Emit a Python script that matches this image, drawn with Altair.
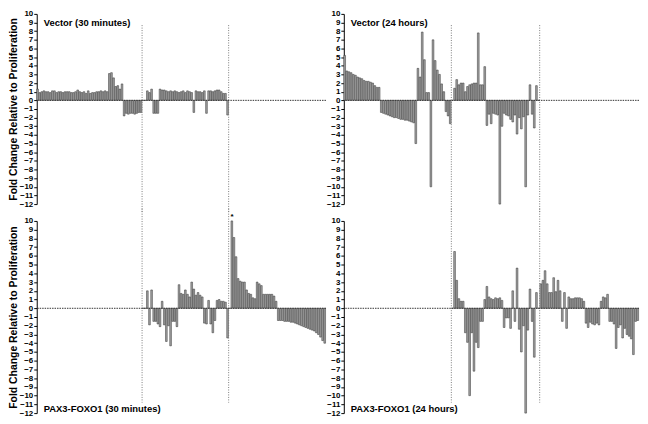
import altair as alt
import pandas as pd

# ---- group sizes (number of x slots per group) ----
G1, G2, G3 = 50, 41, 46
N = G1 + G2 + G3

# ---- Vector (30 minutes) ----
TL_G1 = [1.3, 0.9, 1.0, 1.1, 1.0, 1.0, 0.9, 1.1, 1.1, 0.9, 1.0, 1.0, 0.9, 1.0, 1.0, 1.0, 0.9,
         0.9, 1.0, 1.2, 1.0, 0.9, 1.0, 0.8, 1.1, 0.8, 0.9, 0.9, 1.0, 1.0, 1.1, 1.0, 1.1, 1.0,
         3.1, 3.2, 2.6, 1.6, 1.7, 1.3, 1.9,
         -1.8, -1.5, -1.6, -1.5, -1.5, -1.6, -1.5, -1.4, -1.4]
TL_G2 = [0, 0, 1.1, 0.9, 1.3, -1.5, -1.5, -1.5, 1.3, 1.2, 1.2, 1.1, 1.0, 1.1, 1.0, 1.1, 1.0,
         0.9, 1.0, 1.1, 0.9, 1.1, 1.0, 0.9, -1.4, 1.1, 1.0, 1.0, 0.9, 1.1, -1.5, 1.1, 1.1, 1.0,
         1.1, 1.2, 1.2, 1.0, 0.8, 0.8, -1.7]

# ---- Vector (24 hours) ----
TR_G1 = [5.2, 3.4, 3.3, 3.2, 3.0, 2.9, 2.7, 2.6, 2.5, 2.3, 2.2, 2.2, 2.1, 2.0, 1.7, 1.5, 1.5,
         -1.4, -1.5, -1.6, -1.7, -1.8, -1.9, -2.0, -2.0, -2.1, -2.2, -2.2, -2.3, -2.3, -2.4,
         -2.5, -2.6, -5.0, 3.7, 2.7, 7.9, 4.7, 0.9, 0.9, -10.0, 7.0, 4.6, 3.5, 3.0, 1.9, 1.0,
         -1.3, -1.8, -2.7]
TR_G2 = [0, 1.4, 2.4, 1.8, 2.0, 2.0, 1.0, 1.6, 1.8, 1.9, 2.0, 2.0, 7.8, 1.8, 1.8, 3.9,
         -2.9, -1.6, -2.7, -1.5, -1.6, -1.7, -12.0, -3.0, -1.5, -1.7, -1.8, -2.2, -2.5, -1.7,
         -3.9, -2.0, -3.3, -1.9, -10.0, -1.7, 1.8, -1.6, -3.2, 1.7, 0]

# ---- PAX3-FOXO1 (30 minutes) ----
BL_G2 = [0, 0, 2.0, -1.9, 2.1, -1.5, -1.5, -1.8, -2.1, 0.8, -1.9, -3.8, -2.0, -4.3, -1.5,
         -1.5, -2.1, 2.7, 1.7, 1.6, 2.1, 1.6, 1.3, 3.0, 2.2, 1.5, 1.8, 1.5, 1.3, -1.7, -1.8,
         0.9, -1.8, -2.8, -1.4, 0.9, 1.0, 0.8, 0.8, 0.7, -3.4]
BL_G3 = [0, 10.0, 8.1, 5.9, 3.4, 3.1, 3.0, 3.0, 2.1, 1.7, 1.6, 1.2, 1.1, 3.0, 2.8, 2.6, 1.6,
         1.6, 1.6, 1.6, 1.6, 1.4, 0.8,
         -1.4, -1.4, -1.4, -1.5, -1.5, -1.5, -1.6, -1.6, -1.7, -1.8, -1.9, -2.0, -2.1, -2.2,
         -2.3, -2.4, -2.5, -2.6, -2.8, -3.0, -3.3, -3.7, -4.0]

# ---- PAX3-FOXO1 (24 hours) ----
BR_G2 = [0, 6.5, 3.2, 1.1, 0.8, 0.8, -2.8, -3.9, -10.0, -2.8, -7.2, -3.9, -4.5, -1.5, -1.5,
         1.0, 2.5, 1.3, 1.1, 1.0, 1.2, 1.1, 1.2, 0.9, -2.2, -1.1, -1.1, -2.3, 2.0, -1.5, 4.6,
         -2.4, -5.0, -2.0, -12.0, -2.5, 2.2, -1.5, -5.6, 1.8, 0]
BR_G3 = [2.8, 3.2, 4.3, 2.8, 1.8, 1.8, 3.5, 1.9, 3.2, 2.0, -1.5, 1.8, -2.3, 1.3, 1.1, 1.1,
         1.2, 1.2, 1.2, 1.1, 0.8, -1.7, -2.2, -1.6, -1.8, -1.9, -1.7, -1.9, 0.8, 1.3, 1.2,
         1.6, -1.5, -1.5, -1.8, -4.6, -2.2, -1.9, -3.4, -2.3, -3.0, -3.2, -3.5, -5.3, -1.5,
         -1.4]

Y_TITLE = "Fold Change Relative to Proliferation"
Y_TICKS = list(range(-12, 11))
FONT = "Liberation Sans"


def panel_df(groups):
    rows = []
    for start, vals in groups:
        for k, v in enumerate(vals):
            rows.append({"idx": start + k, "value": v})
    return pd.DataFrame(rows)


def make_panel(df, label, label_y, width, height, show_title, vtop, vbot, star=None):
    xs = alt.Scale(domain=[0, N], nice=False, zero=False)
    ys = alt.Scale(domain=[-12, 10], nice=False, zero=False)
    if show_title:
        yaxis = alt.Axis(values=Y_TICKS, title=Y_TITLE)
    else:
        yaxis = alt.Axis(values=Y_TICKS, title=None)

    def Y(field):
        return alt.Y(field, scale=ys, axis=yaxis)

    bars = alt.Chart(df).transform_calculate(x2="datum.idx + 0.8").mark_rect(
        fill="#a3a3a3", stroke="#2e2e2e", strokeWidth=0.5
    ).encode(
        x=alt.X("idx:Q", scale=xs, axis=None),
        x2="x2:Q",
        y=Y("value:Q"),
        y2=alt.datum(0),
    )

    zero = alt.Chart(pd.DataFrame({"v": [0]})).mark_rule(
        color="#333333", strokeDash=[1.5, 1], strokeWidth=1
    ).encode(y=Y("v:Q"))

    vl = pd.DataFrame({"x": [G1 - 0.1, G1 + G2 - 0.1], "y": [vtop, vtop], "y2": [vbot, vbot]})
    vlines = alt.Chart(vl).mark_rule(
        color="#7a7a7a", strokeDash=[1, 1.5], strokeWidth=1
    ).encode(
        x=alt.X("x:Q", scale=xs, axis=None),
        y=Y("y:Q"),
        y2="y2:Q",
    )

    txt = alt.Chart(pd.DataFrame({"t": [label], "y": [label_y]})).mark_text(
        align="left", baseline="middle", font=FONT, fontWeight="bold", fontSize=9.5, color="black"
    ).encode(text="t:N", x=alt.value(7), y=Y("y:Q"))

    layers = [bars, vlines, zero, txt]
    if star is not None:
        sd = pd.DataFrame({"x": [star[0]], "y": [star[1]], "t": ["*"]})
        layers.append(
            alt.Chart(sd).mark_text(fontSize=8, fontWeight="bold", color="black", baseline="middle",
                                    align="center", dx=1)
            .encode(x=alt.X("x:Q", scale=xs, axis=None), y=Y("y:Q"), text="t:N")
        )
    return alt.layer(*layers).properties(width=width, height=height)


tl = make_panel(panel_df([(0, TL_G1), (G1, TL_G2)]), "Vector (30 minutes)", 9.0, 292, 192, True, 8.7, -12.9)
tr = make_panel(panel_df([(0, TR_G1), (G1, TR_G2)]), "Vector (24 hours)", 9.0, 298, 192, False, 8.7, -12.9)
bl = make_panel(panel_df([(G1, BL_G2), (G1 + G2, BL_G3)]), "PAX3-FOXO1 (30 minutes)", -11.5, 292, 194, True,
                11.4, -10.8, star=(G1 + G2 + 1, 10.5))
br = make_panel(panel_df([(G1, BR_G2), (G1 + G2, BR_G3)]), "PAX3-FOXO1 (24 hours)", -11.5, 298, 194, False,
                11.4, -10.8)

chart = alt.concat(
    tl, tr, bl, br, columns=2, bounds="flush", align="each",
    spacing=alt.RowColnumber(row=17, column=18)
).properties(padding=0).configure_view(
    strokeWidth=0
).configure_axis(
    labelFont=FONT, labelFontWeight="bold", labelFontSize=8, labelColor="black",
    domainColor="black", tickColor="black", tickSize=3, labelPadding=1,
    titleFont=FONT, titleFontWeight="bold", titleFontSize=10.5, titleColor="black",
    titlePadding=1, labelOverlap=False, grid=False, domainWidth=1, tickWidth=1
)

chart.save("out.html", embed_options={"renderer": "svg", "actions": False})
